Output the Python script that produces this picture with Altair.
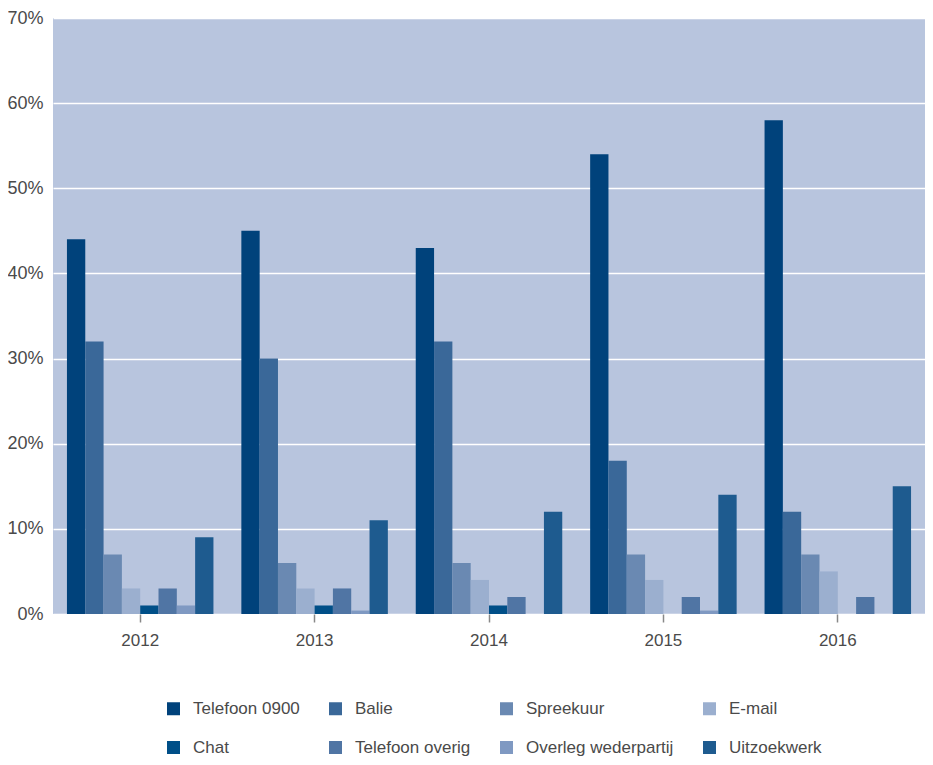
import altair as alt
import pandas as pd

years = ["2012", "2013", "2014", "2015", "2016"]
channels = ["Telefoon 0900", "Balie", "Spreekuur", "E-mail",
            "Chat", "Telefoon overig", "Overleg wederpartij", "Uitzoekwerk"]

telefoon_0900 = [44, 45, 43, 54, 58]
balie = [32, 30, 32, 18, 12]
spreekuur = [7, 6, 6, 7, 7]
email = [3, 3, 4, 4, 5]
chat = [1, 1, 1, 0, 0]
telefoon_overig = [3, 3, 2, 2, 2]
overleg_wederpartij = [1, 0.4, 0, 0.4, 0]
uitzoekwerk = [9, 11, 12, 14, 15]

series = [telefoon_0900, balie, spreekuur, email, chat,
          telefoon_overig, overleg_wederpartij, uitzoekwerk]

colors = ["#00427b", "#3a6899", "#6a89b2", "#9bafcf",
          "#004f88", "#5075a4", "#7f99c2", "#1e5b8f"]

y_ticks = [0, 0.1, 0.2, 0.3, 0.4, 0.5, 0.6, 0.7]

rows = []
for ch, vals in zip(channels, series):
    for yr, v in zip(years, vals):
        rows.append({"Jaar": yr, "Kanaal": ch, "Aandeel": v / 100})
df = pd.DataFrame(rows)

FONT = "Liberation Sans"
TXT = "#4a4a4a"

chart = alt.Chart(df).mark_bar().encode(
    x=alt.X("Jaar:N", sort=years,
            scale=alt.Scale(paddingInner=0.16, paddingOuter=0.08),
            axis=alt.Axis(title=None, labelAngle=0, domain=False,
                          ticks=True, tickSize=8, tickColor="#888888", tickWidth=1.5,
                          labelFont=FONT, labelFontSize=17, labelColor=TXT,
                          labelPadding=10, grid=False)),
    xOffset=alt.XOffset("Kanaal:N", sort=channels,
                        scale=alt.Scale(paddingInner=0, paddingOuter=0)),
    y=alt.Y("Aandeel:Q", scale=alt.Scale(domain=[0, 0.7], nice=False),
            axis=alt.Axis(title=None, format=".0%", values=y_ticks,
                          domain=False, ticks=False, grid=True,
                          gridColor="#ffffff", gridWidth=1.5,
                          labelFont=FONT, labelFontSize=18, labelColor=TXT,
                          labelPadding=10)),
    color=alt.Color("Kanaal:N", sort=channels,
                    scale=alt.Scale(domain=channels, range=colors),
                    legend=alt.Legend(title=None, orient="none",
                                      direction="horizontal",
                                      legendX=112, legendY=682,
                                      columns=4, symbolType="square",
                                      symbolSize=169, symbolStrokeWidth=0,
                                      labelFont=FONT, labelFontSize=17,
                                      labelColor=TXT, labelOffset=11,
                                      columnPadding=27, rowPadding=21,
                                      padding=0, labelLimit=300)),
).properties(
    width=872, height=596,
    background="#ffffff",
    autosize=alt.AutoSizeParams(type="none"),
    padding={"left": 45, "top": 10, "right": 0, "bottom": 143},
).configure_view(
    fill="#b8c5de", stroke=None
)

chart.save("out.html", embed_options={"renderer": "svg", "actions": False})
